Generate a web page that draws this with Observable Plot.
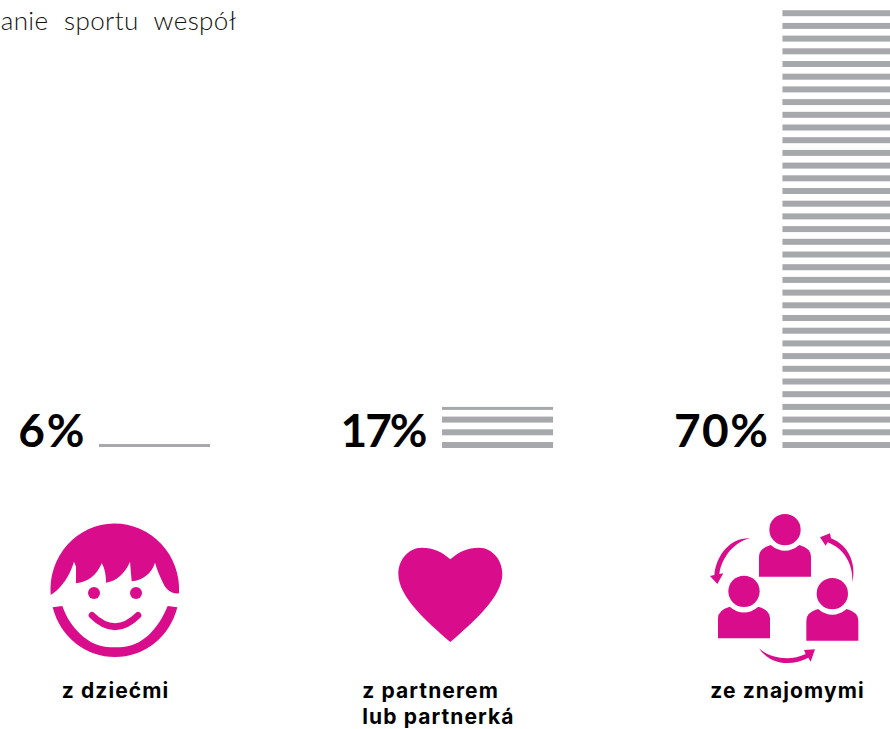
<!DOCTYPE html>
<html lang="pl">
<head>
<meta charset="utf-8">
<script src="https://cdn.jsdelivr.net/npm/d3@7"></script>
<script src="https://cdn.jsdelivr.net/npm/@observablehq/plot@0.6"></script>
<style>
html,body{margin:0;padding:0;background:#fff;overflow:hidden}
svg{display:block}
</style>
</head>
<body>
<div id="chart"></div>
<script>
const categories = ["z dziećmi", "z partnerem\nlub partnerká", "ze znajomymi"];
const percents = ["6%", "17%", "70%"];
const stripeCounts = [0.5, 3.5, 35];
const headline = "anie sportu wespół";

const pink = "#d90d8b", grey = "#a7a8ab";
const stripeFill = 0.472;
const nudgeX = [0, 1.3, 0];
const nudgeY = [-1, 0, 0];
const labelDx = [-39.5, -134.5, -51];
const labelAnchor = ["middle", "start", "middle"];
const percentSpacing = [2, -2, 1.5];

const rows = categories.flatMap((c, k) => {
  const out = [];
  const n = stripeCounts[k];
  for (let i = 0; i < Math.ceil(n); i++) {
    const frac = Math.min(1, n - i);
    out.push({cat: c, y1: i, y2: i + stripeFill * frac});
  }
  return out;
});

const font = "Lato, sans-serif";

function icon(tx, ty, draw) {
  return () => {
    const g = d3.create("svg:g").attr("transform", `translate(${tx},${ty}) scale(${1/3})`).attr("fill", pink);
    draw(g);
    return g.node();
  };
}
const path = (g, d) => g.append("path").attr("d", d);
const circle = (g, x, y, r) => g.append("circle").attr("cx", x).attr("cy", y).attr("r", r);

const face = icon(0, 380, g => {
  path(g, "M152,645 A193,198 0 1 1 537,640 C510,642 495,625 485,600 C478,585 470,565 465,548 C455,580 430,600 395,604 L390,545 C375,580 350,603 318,608 C318,590 315,565 305,550 C290,585 265,607 228,610 L228,560 L222,545 C210,585 185,625 152,645Z");
  path(g, "M158,682 A193,198 0 0 0 532,682 L503,678 C490,710 470,745 440,770 C410,795 380,802 345,802 C310,802 280,795 250,770 C220,745 200,715 187,678Z");
  circle(g, 282, 639, 18);
  circle(g, 408, 639, 18);
  path(g, "M276,706 Q345,774 414,706").attr("fill", "none").attr("stroke", pink).attr("stroke-width", 20).attr("stroke-linecap", "round");
});

const heart = icon(350, 530, g => {
  path(g, "M301,88 C275,65 250,53 215,53 C175,53 145,90 145,132 C145,200 230,275 301,336 C372,275 457,200 457,132 C457,90 427,53 387,53 C352,53 327,65 301,88Z");
});

const people = icon(660, 380, g => {
  const person = (dx, dy) => {
    circle(g, 375 + dx, 449 + dy, 47);
    path(g, `M${297+dx},${590+dy} V${530+dy} Q${297+dx},${505+dy} ${332+dx},${495+dy} Q${375+dx},${530+dy} ${418+dx},${495+dy} Q${453+dx},${505+dy} ${453+dx},${530+dy} V${590+dy}Z`);
  };
  person(0, 0);
  person(-123, 185);
  person(142, 192);
  path(g, "M270,475 C215,472 170,520 163,585 L150,588 L172,612 L190,580 L178,582 C185,530 225,485 270,475Z");
  path(g, "M577,607 C590,550 565,495 513,475 L510,460 L480,472 L497,497 L503,487 C550,505 580,550 577,607Z");
  path(g, "M297,805 C330,835 390,845 437,822 L432,810 L465,808 L452,845 L445,833 C395,860 330,855 297,805Z");
});

const plot = Plot.plot({
  width: 890,
  height: 729,
  marginTop: 0,
  marginLeft: 0,
  marginRight: 0,
  marginBottom: 281,
  style: {background: "#fff", overflow: "hidden"},
  x: {type: "band", domain: categories, range: [99, 893.5], padding: 0.675, paddingOuter: 0, axis: null, round: false},
  y: {domain: [0, 35.276], axis: null},
  marks: [
    ...categories.map((c, k) => Plot.barY(rows.filter(r => r.cat === c), {
      x: "cat", y1: "y1", y2: "y2", fill: grey, dx: nudgeX[k], dy: nudgeY[k]
    })),
    ...categories.map((c, k) => Plot.text([percents[k]], {
      x: () => c, y: () => 0, text: d => d, textAnchor: "end", lineAnchor: "bottom",
      dx: -70.5 + nudgeX[k] + percentSpacing[k], dy: -2,
      fontFamily: font, fontWeight: 700, fontSize: 46, fill: "#000"
    })),
    ...categories.map((c, k) => Plot.text([c], {
      x: () => c, y: () => 0, text: d => d, textAnchor: labelAnchor[k], lineAnchor: "top",
      dx: labelDx[k], dy: 231, lineHeight: 1.25,
      fontFamily: "Inter, sans-serif", fontWeight: 700, fontSize: 21, fill: "#000"
    })),
    Plot.text([headline], {
      frameAnchor: "top-left", textAnchor: "end", lineAnchor: "top", text: d => d, dx: 236, dy: 11,
      fontFamily: font, fontWeight: 300, fontSize: 26, fill: "#111"
    }),
    face, heart, people
  ]
});
plot.querySelectorAll("text").forEach(t => {
  const s = t.textContent;
  const k = percents.indexOf(s);
  if (k >= 0) t.style.letterSpacing = percentSpacing[k] + "px";
  else if (s === headline) { t.style.letterSpacing = "0.4px"; t.style.wordSpacing = "8px"; }
  else t.style.letterSpacing = "1.1px";
});
document.getElementById("chart").append(plot);
</script>
</body>
</html>
